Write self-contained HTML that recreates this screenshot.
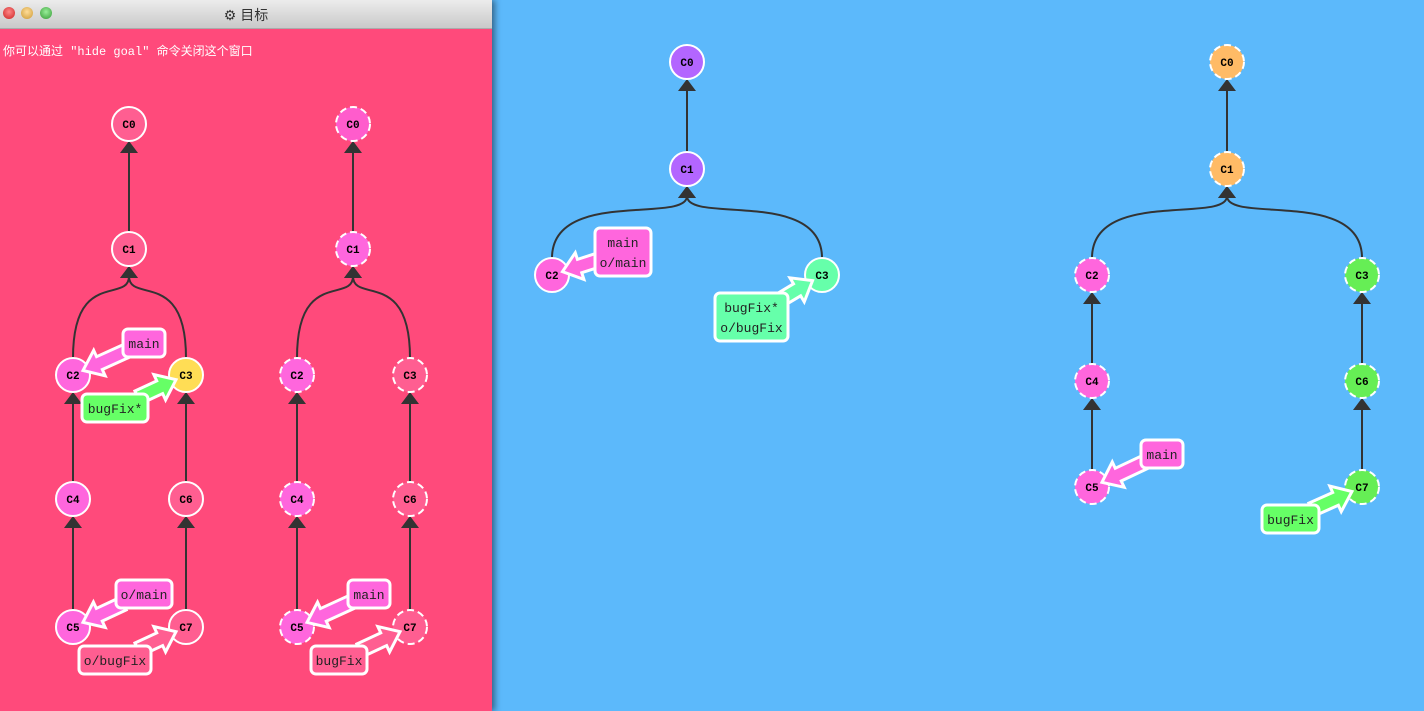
<!DOCTYPE html>
<html><head><meta charset="utf-8">
<style>
html,body{margin:0;padding:0;width:1424px;height:711px;overflow:hidden;background:#5cb9fb;font-family:"Liberation Sans","Noto Sans CJK SC",sans-serif}
#goal{position:absolute;left:0;top:0;width:492px;height:711px;background:#ff4a7b;box-shadow:3px 0 6px rgba(0,0,0,.45)}
#titlebar{position:absolute;left:0;top:0;width:492px;height:28px;background:linear-gradient(#ececec,#c9c9c9);border-bottom:1px solid #aaa}
.dot{position:absolute;top:7px;width:12px;height:12px;border-radius:50%}
#title{position:absolute;left:0;right:0;top:5px;text-align:center;font-size:14px;color:#333}
#hint{position:absolute;left:3px;top:42px;font-size:12px;color:#fff;font-family:"Liberation Mono","Noto Sans CJK SC",monospace}
svg{position:absolute;left:0;top:0}
</style></head><body>
<div id="goal">
 <div id="titlebar">
  <div class="dot" style="left:3px;background:radial-gradient(circle at 50% 40%,#f88,#c22)"></div>
  <div class="dot" style="left:21px;background:radial-gradient(circle at 50% 40%,#fd9,#c93)"></div>
  <div class="dot" style="left:40px;background:radial-gradient(circle at 50% 40%,#9e9,#393)"></div>
  <div id="title">⚙ 目标</div>
 </div>
 <div id="hint">你可以通过 "hide goal" 命令关闭这个窗口</div>
</div>
<svg id="svg" width="1424" height="711"></svg>
<script>
const nodeIds=["a0","a1","a2","a3","a4","a6","a5","a7","b0","b1","b2","b3","b4","b6","b5","b7","c0","c1","c2","c3","d0","d1","d2","d3","d4","d6","d5","d7"];
const nodeNames=["C0","C1","C2","C3","C4","C6","C5","C7","C0","C1","C2","C3","C4","C6","C5","C7","C0","C1","C2","C3","C0","C1","C2","C3","C4","C6","C5","C7"];
const nodeX=[129,129,73,186,73,186,73,186,353,353,297,410,297,410,297,410,687,687,552,822,1227,1227,1092,1362,1092,1362,1092,1362];
const nodeY=[124,249,375,375,499,499,627,627,124,249,375,375,499,499,627,627,62,169,275,275,62,169,275,275,381,381,487,487];
const nodeFill=["#ff5e91","#ff5e91","#ff66dd","#ffdd55","#ff66dd","#ff5e91","#ff66dd","#ff5e91","#ff5ccc","#ff66dd","#ff66dd","#ff5e91","#ff66dd","#ff5e91","#ff66dd","#ff5e91","#b366ff","#b366ff","#ff66dd","#66ffaa","#ffbb66","#ffbb66","#ff66dd","#66ee55","#ff66dd","#66ee55","#ff66dd","#66ee55"];
const nodeDashed=[0,0,0,0,0,0,0,0,1,1,1,1,1,1,1,1,0,0,0,0,1,1,1,1,1,1,1,1];
const edgeChild=["a1","a2","a3","a4","a6","a5","a7","b1","b2","b3","b4","b6","b5","b7","c1","c2","c3","d1","d2","d3","d4","d6","d5","d7"];
const edgeParent=["a0","a1","a1","a2","a3","a4","a6","b0","b1","b1","b2","b3","b4","b6","c0","c1","c1","d0","d1","d1","d2","d3","d4","d6"];
const labelText=[["main"],["bugFix*"],["o/main"],["o/bugFix"],["main"],["bugFix"],["main","o/main"],["bugFix*","o/bugFix"],["main"],["bugFix"]];
const labelTarget=["a2","a3","a5","a7","b5","b7","c2","c3","d5","d7"];
const labelX=[123,82,116,79,348,311,595,715,1141,1262];
const labelY=[329,394,580,646,580,646,228,293,440,505];
const labelW=[42,66,56,72,42,56,56,73,42,57];
const labelFill=["#ff66dd","#66ff66","#ff66dd","#ff5e91","#ff66dd","#ff5e91","#ff66dd","#66ffaa","#ff66dd","#66ff66"];

const NS="http://www.w3.org/2000/svg",svg=document.getElementById('svg'),R=17;
function mk(t,a,p){const e=document.createElementNS(NS,t);for(const k in a)e.setAttribute(k,a[k]);(p||svg).appendChild(e);return e;}
const idx=id=>nodeIds.indexOf(id);
edgeChild.forEach((c,i)=>{
 const a=idx(c),b=idx(edgeParent[i]);
 const x1=nodeX[a],y1=nodeY[a]-R,x2=nodeX[b],y2=nodeY[b]+R+10;
 let d;
 if(x1===x2)d=`M${x1},${y1}L${x2},${y2}`;
 else d=`M${x1},${y1}C${x1},${y2-8} ${x2},${y2+28} ${x2},${y2}`;
 const p=mk('path',{d,fill:'none',stroke:'#333',"stroke-width":2});
 
 
 const t=mk('polygon',{points:`${x2},${nodeY[b]+R} ${x2-9},${y2+2} ${x2+9},${y2+2}`,fill:'#333'});
 
 
});
nodeIds.forEach((id,i)=>{
 const g=mk('g',{});
 
 
 const c=mk('circle',{cx:nodeX[i],cy:nodeY[i],r:R,fill:nodeFill[i],stroke:'#fff',"stroke-width":2},g);
 if(nodeDashed[i])c.setAttribute('stroke-dasharray','7,4');
 const t=mk('text',{x:nodeX[i],y:nodeY[i]+4,"text-anchor":"middle","font-size":11,"font-weight":"bold","font-family":"Liberation Mono, monospace",fill:'#000'},g);
 t.textContent=nodeNames[i];
});
labelText.forEach((lines,i)=>{
 const n=idx(labelTarget[i]),h=lines.length===1?28:48;
 const lx=labelX[i],ly=labelY[i],w=labelW[i];
 const cx=lx+w/2,cy=ly+h/2,nx=nodeX[n],ny=nodeY[n];
 const dx=nx-cx,dy=ny-cy,L=Math.hypot(dx,dy),ux=dx/L,uy=dy/L,px=-uy,py=ux;
 const tb=Math.min(Math.abs((w/2)/(ux||1e-9)),Math.abs((h/2)/(uy||1e-9)));
 const sx=cx+ux*(tb-8),sy=cy+uy*(tb-8);
 const ex=nx-ux*(R-6),ey=ny-uy*(R-6);
 const hb=18,sw=7,hw=14;
 const bx=ex-ux*hb,by=ey-uy*hb;
 const pts=[[sx+px*sw,sy+py*sw],[bx+px*sw,by+py*sw],[bx+px*hw,by+py*hw],[ex,ey],[bx-px*hw,by-py*hw],[bx-px*sw,by-py*sw],[sx-px*sw,sy-py*sw]];
 const g=mk('g',{});
 
 
 mk('polygon',{points:pts.map(p=>p.join(',')).join(' '),fill:labelFill[i],stroke:'#fff',"stroke-width":3,"stroke-linejoin":"miter"},g);
 mk('rect',{x:lx,y:ly,width:w,height:h,rx:5,fill:labelFill[i],stroke:'#fff',"stroke-width":3},g);
 lines.forEach((s,k)=>{
  const t=mk('text',{x:cx,y:ly+19+k*20,"text-anchor":"middle","font-size":13,"font-family":"Liberation Mono, monospace",fill:'#222'},g);
  t.textContent=s;
 });
});
</script>
</body></html>
